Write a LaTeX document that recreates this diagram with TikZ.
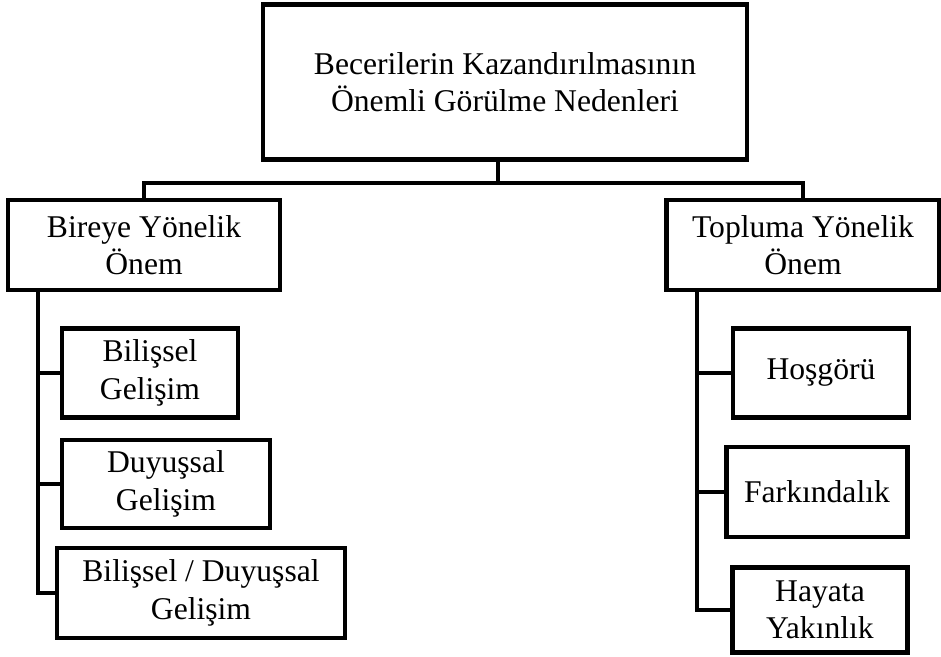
\documentclass[tikz,border=0pt]{standalone}
\usepackage{fontspec}
\setmainfont{Liberation Serif}
\usetikzlibrary{positioning}
\newcommand\px{0.03}
\tikzset{box/.style={rectangle,draw=black,line width=4pt,inner sep=0pt,align=center,font=\fontsize{27}{32}\selectfont},
link/.style={draw=black,line width=4pt}}

\begin{document}
\begin{tikzpicture}[x=\px cm,y=-\px cm]
                \useasboundingbox (0,0) rectangle (941,657);
                \node[box,minimum width=14.52cm,minimum height=4.65cm] (top) at (505,82) {Becerilerin Kazandırılmasının\\Önemli Görülme Nedenleri};

                \node[box,minimum width=8.16cm,minimum height=2.7cm] (bireye) at (144,245) {Bireye Yönelik\\Önem};
                \node[box,minimum width=8.19cm,minimum height=2.7cm] (toplum) at (803,245) {Topluma Yönelik\\Önem};

                \node[box,minimum width=5.28cm,minimum height=2.67cm] (bilissel) at (150,373) {Bilişsel\\Gelişim};
                \node[box,minimum width=6.24cm,minimum height=2.64cm] (duyussal) at (166,484) {Duyuşsal\\Gelişim};
                \node[box,minimum width=8.64cm,minimum height=2.7cm] (ikisi) at (201,593) {Bilişsel / Duyuşsal\\Gelişim};

                \node[box,minimum width=5.28cm,minimum height=2.67cm] (hosgoru) at (821,373) {Hoşgörü};
                \node[box,minimum width=5.43cm,minimum height=2.7cm] (farkindalik) at (817,492) {Farkındalık};
                \node[box,minimum width=5.25cm,minimum height=2.55cm] (hayata) at (820,610) {Hayata\\Yakınlık};

                \coordinate (dal) at (498,183);
                \coordinate (lspine) at (38,290);
                \coordinate (rspine) at (697,290);

                \draw[link] (top.south -| dal) -- (dal);
                \draw[link] (bireye.north) |- (dal) -| (toplum.north);

                \draw[link] (lspine) |- (ikisi.west);
                \draw[link] (lspine |- bilissel.west) -- (bilissel.west);
                \draw[link] (lspine |- duyussal.west) -- (duyussal.west);

                \draw[link] (rspine) |- (hayata.west);
                \draw[link] (rspine |- hosgoru.west) -- (hosgoru.west);
                \draw[link] (rspine |- farkindalik.west) -- (farkindalik.west);
            \end{tikzpicture}
\end{document}
